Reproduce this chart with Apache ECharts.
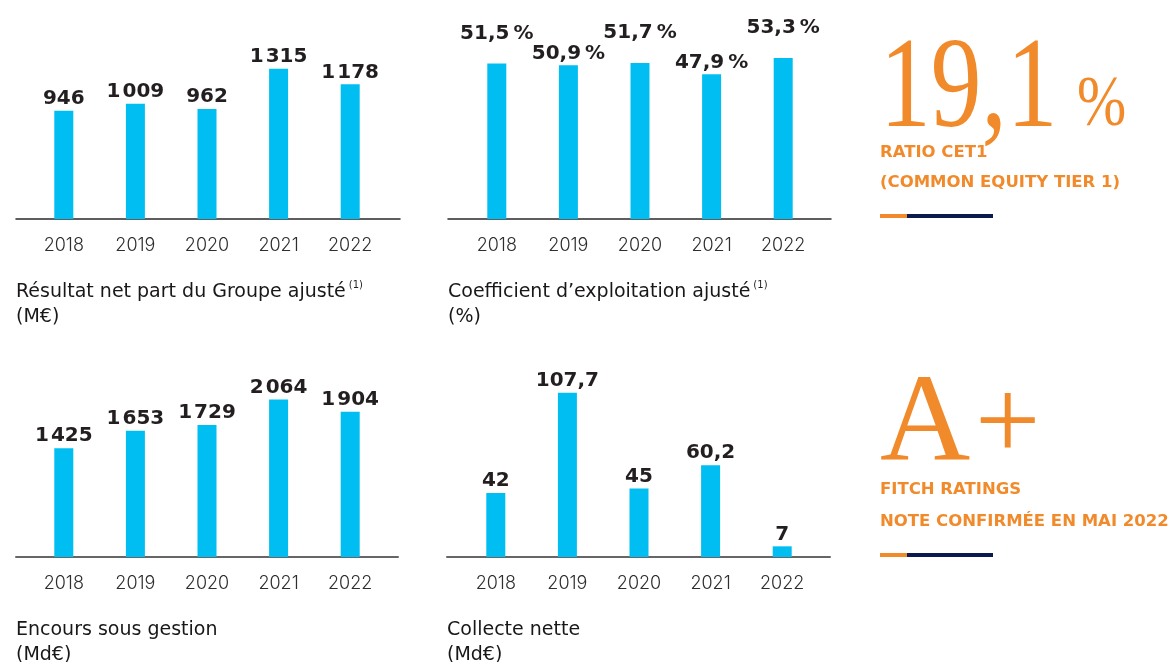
<!DOCTYPE html>
<html>
<head>
<meta charset="utf-8">
<script src="https://cdn.jsdelivr.net/npm/echarts@6/dist/echarts.min.js"></script>
<style>
  html, body { margin: 0; padding: 0; background: #fff; }
  #chart { width: 1176px; height: 662px; }
</style>
</head>
<body>
<div id="chart"></div>
<script>
// données
const years = ['2018', '2019', '2020', '2021', '2022'];
const resultatNet = [946, 1009, 962, 1315, 1178];
const coefExploitation = [51.5, 50.9, 51.7, 47.9, 53.3];
const encours = [1425, 1653, 1729, 2064, 1904];
const collecte = [42, 107.7, 45, 60.2, 7];

const BLUE = '#00BEF2';
const ORANGE = '#F18A2B';
const NAVY = '#0C1B4D';
const INK = '#231F20';
const SANS = 'Inter, "Noto Sans", sans-serif';
const WIDE = '"DejaVu Sans", sans-serif';

function fmtMillier(v) {
    let s = String(v);
    return s.length > 3 ? s.slice(0, -3) + '\u200A' + s.slice(-3) : s;
}
function fmtPct(v) {
    return v.toFixed(1).replace('.', ',') + '\u202F%';
}
function fmtDec(v) {
    return String(v).replace('.', ',');
}

// un bloc par graphique
let panels = [
    { data: resultatNet, fmt: fmtMillier, barLeft: 28, lineLeft: 16, lineWidth: 384, axisY: 219, max: 1487,
      lineColor: '#2a2a2a', lineW: 1.5,
      title: '{t|Résultat net part du Groupe ajusté}{s|(1)}\n{t|(M€)}' },
    { data: coefExploitation, fmt: fmtPct, barLeft: 461, lineLeft: 448, lineWidth: 383, axisY: 219, max: 56.3, stagger: true,
      lineColor: '#2a2a2a', lineW: 1.5,
      title: '{t|Coefficient d’exploitation ajusté}{s|(1)}\n{t|(%)}' },
    { data: encours, fmt: fmtMillier, barLeft: 28, lineLeft: 16, lineWidth: 382, axisY: 557, max: 2227,
      lineColor: '#666', lineW: 2,
      title: '{t|Encours sous gestion}\n{t|(Md€)}' },
    { data: collecte, fmt: fmtDec, barLeft: 460, lineLeft: 447, lineWidth: 383, axisY: 557, max: 111.5,
      lineColor: '#666', lineW: 2,
      title: '{t|Collecte nette}\n{t|(Md€)}' }
];

let grids = [], xAxes = [], yAxes = [], series = [], titles = [];
const H = 170;

panels.forEach((p, i) => {
    grids.push({ left: p.barLeft, width: 358, top: p.axisY - H, height: H, outerBoundsMode: 'none' });
    xAxes.push({
        type: 'category', gridIndex: i, data: years,
        axisLine: { show: false }, axisTick: { show: false },
        axisLabel: { margin: 18, fontSize: 18, fontWeight: 300, color: '#2e2e2e', fontFamily: SANS }
    });
    yAxes.push({ type: 'value', gridIndex: i, min: 0, max: p.max, show: false });
    series.push({
        type: 'bar', xAxisIndex: i, yAxisIndex: i, barWidth: 19, silent: true, z: 3,
        itemStyle: { color: BLUE },
        label: {
            show: true, position: 'top', distance: 2,
            fontSize: 20, fontWeight: 'bold', color: INK, fontFamily: WIDE,
            formatter: (params) => p.fmt(params.value)
        },
        data: p.data.map((v, k) => p.stagger ? { value: v, label: { distance: k % 2 ? 2 : 20 } } : v)
    });
    titles.push({
        left: p.lineLeft, top: p.axisY + 61, padding: 0,
        text: p.title,
        textStyle: {
            fontWeight: 'normal',
            rich: {
                t: { fontSize: 19, fontWeight: 'normal', color: '#1a1718', fontFamily: WIDE, lineHeight: 25 },
                s: { fontSize: 10, fontWeight: 'normal', color: INK, fontFamily: WIDE, verticalAlign: 'top', padding: [0, 0, 0, 3] }
            }
        }
    });
});

// lignes d'axe (plus larges que les bandes des barres)
panels.forEach((p, i) => {
    let gi = panels.length + i;
    grids.push({ left: p.lineLeft, width: p.lineWidth, top: p.axisY - 10, height: 10, outerBoundsMode: 'none' });
    xAxes.push({
        type: 'value', gridIndex: gi, min: 0, max: 1,
        axisLine: { show: true, lineStyle: { color: p.lineColor, width: p.lineW } },
        axisTick: { show: false }, axisLabel: { show: false }, splitLine: { show: false }
    });
    yAxes.push({ type: 'value', gridIndex: gi, min: 0, max: 1, show: false });
});

function txt(x, y, text, font, extra) {
    return Object.assign({
        type: 'text', x: x, y: y, silent: true,
        style: { text: text, font: font, fill: ORANGE, align: 'left', textAlign: 'left', verticalAlign: 'middle', textVerticalAlign: 'middle' }
    }, extra || {});
}

const CAPTION = 'bold 16.5px ' + WIDE;
let graphics = [
    txt(880, 92, '19,1', '130px "Liberation Serif"', { scaleX: 0.78 }),
    txt(1077, 106, '%', '72px "Liberation Serif"', { scaleX: 0.82 }),
    txt(880, 153, 'RATIO CET1', CAPTION),
    txt(880, 183, '(COMMON EQUITY TIER 1)', CAPTION),
    { type: 'rect', shape: { x: 880, y: 214, width: 27, height: 4 }, style: { fill: ORANGE }, silent: true },
    { type: 'rect', shape: { x: 907, y: 214, width: 86, height: 4 }, style: { fill: NAVY }, silent: true },
    txt(880, 427, 'A', '125px "Liberation Serif"'),
    txt(975, 429, '+', '116px "Liberation Serif"'),
    txt(880, 490, 'FITCH RATINGS', CAPTION),
    txt(880, 522, 'NOTE CONFIRMÉE EN MAI 2022', CAPTION),
    { type: 'rect', shape: { x: 880, y: 553, width: 27, height: 4 }, style: { fill: ORANGE }, silent: true },
    { type: 'rect', shape: { x: 907, y: 553, width: 86, height: 4 }, style: { fill: NAVY }, silent: true }
];

let myChart = echarts.init(document.getElementById('chart'));
myChart.setOption({
    animation: false,
    backgroundColor: '#fff',
    title: titles,
    grid: grids,
    xAxis: xAxes,
    yAxis: yAxes,
    series: series,
    graphic: { elements: graphics }
});
</script>
</body>
</html>
